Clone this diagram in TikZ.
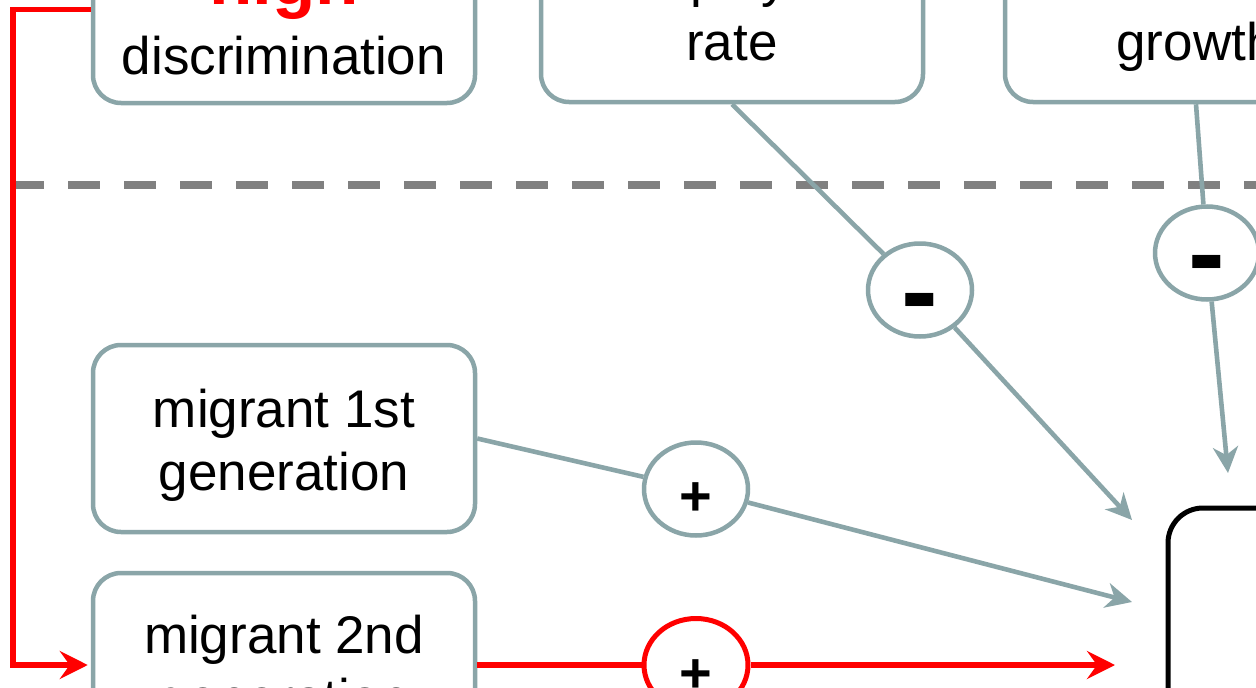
\documentclass[tikz,border=0pt]{standalone}
\usepackage{fontspec}
\setmainfont{Liberation Sans}
\usetikzlibrary{arrows.meta,shapes.geometric}
\definecolor{linegray}{HTML}{8AA5A8}
\definecolor{dashgray}{HTML}{808080}
\definecolor{hired}{HTML}{FF0000}
\tikzset{
  boxnode/.style={draw=linegray, line width=4.5pt, rounded corners=28pt, fill=white,
    minimum width=382pt, minimum height=187pt, inner sep=0pt},
  signnode/.style={draw=linegray, line width=4.5pt, ellipse, fill=white,
    minimum width=104pt, minimum height=93pt, inner sep=0pt},
  redsign/.style={signnode, draw=hired, line width=5pt},
  txt/.style={inner sep=0pt, anchor=base, font=\fontsize{53}{64}\selectfont},
  plustxt/.style={inner sep=0pt, anchor=base, font=\fontsize{56}{60}\selectfont\bfseries},
  minustxt/.style={inner sep=0pt, anchor=base, font=\fontsize{110}{115}\selectfont\bfseries},
  gline/.style={draw=linegray, line width=4.6pt},
  garrow/.style={gline, -{Stealth[length=26pt, width=25pt, inset=8pt]}},
  rline/.style={draw=hired, line width=5.5pt},
  rarrow/.style={rline, -{Stealth[length=28pt, width=28pt, inset=10pt]}},
  dashsep/.style={draw=dashgray, line width=8pt, dash pattern=on 32pt off 24pt}
}
\begin{document}
\begin{tikzpicture}[x=1pt, y=-1pt]
\useasboundingbox (0,0) rectangle (1256,688);
\clip (0,0) rectangle (1256,688);
\fill[white] (0,0) rectangle (1256,688);

% separator
\coordinate (sepA) at (12,185);
\coordinate (sepB) at (1262,185);
\draw[dashsep] (sepA) -- (sepB);

% top boxes
\node[boxnode] (d) at (284,9.5) {};
\node[txt, font=\fontsize{71}{80}\selectfont\bfseries, text=hired] (dhigh) at (284,5) {high};
\node[txt] (dtxt) at (284,74) {discrimination};

\node[boxnode] (u) at (732,8.5) {};
\node[txt] (utxt1) at (732,-4) {unemployment};
\node[txt] (utxt2) at (732,60) {rate};

\node[boxnode] (g) at (1196,8.5) {};
\node[txt] (gtxt) at (1196,60) {growth};

% lower boxes
\node[boxnode] (m1) at (284,438.5) {};
\node[txt] (m1a) at (284,427) {migrant 1st};
\node[txt] (m1b) at (284,490) {generation};

\node[boxnode] (m2) at (284,666.5) {};
\node[txt] (m2a) at (284,653) {migrant 2nd};
\node[txt] (m2b) at (284,716) {generation};

% target box
\node[draw=black, line width=5pt, rounded corners=35pt, minimum width=400pt,
      minimum height=300pt, anchor=north west, inner sep=0pt] (out) at (1165.5,505.5) {};

% sign circles
\node[signnode] (c1) at (920,290) {};
\node[minustxt] (c1t) at (920,328) {-};
\node[signnode] (c2) at (1207,253) {};
\node[minustxt] (c2t) at (1207,290) {-};
\node[signnode] (c3) at (696,489) {};
\node[plustxt] (c3t) at (696,515) {+};
\node[redsign] (c4) at (696,665) {};
\node[plustxt] (c4t) at (696,692) {+};

% arrow end points
\coordinate (t1) at (1132,520);
\coordinate (t2) at (1228,473);
\coordinate (t3) at (1132,602);
\coordinate (t4) at (1115,665);
\coordinate (rc) at (13,9.5);

% connectors
\draw[gline] (u.south) -- (c1);
\draw[garrow] (c1) -- (t1);
\draw[gline] (g.south) -- (c2);
\draw[garrow] (c2) -- (t2);
\draw[gline] (m1.east) -- (c3);
\draw[garrow] (c3) -- (t3);
\draw[rline] (m2.east |- c4) -- (c4);
\draw[rarrow] (c4) -- (t4);
\draw[rarrow] (d.west) -- (rc) |- ([xshift=-3pt]m2.west |- t4);
\end{tikzpicture}
\end{document}
